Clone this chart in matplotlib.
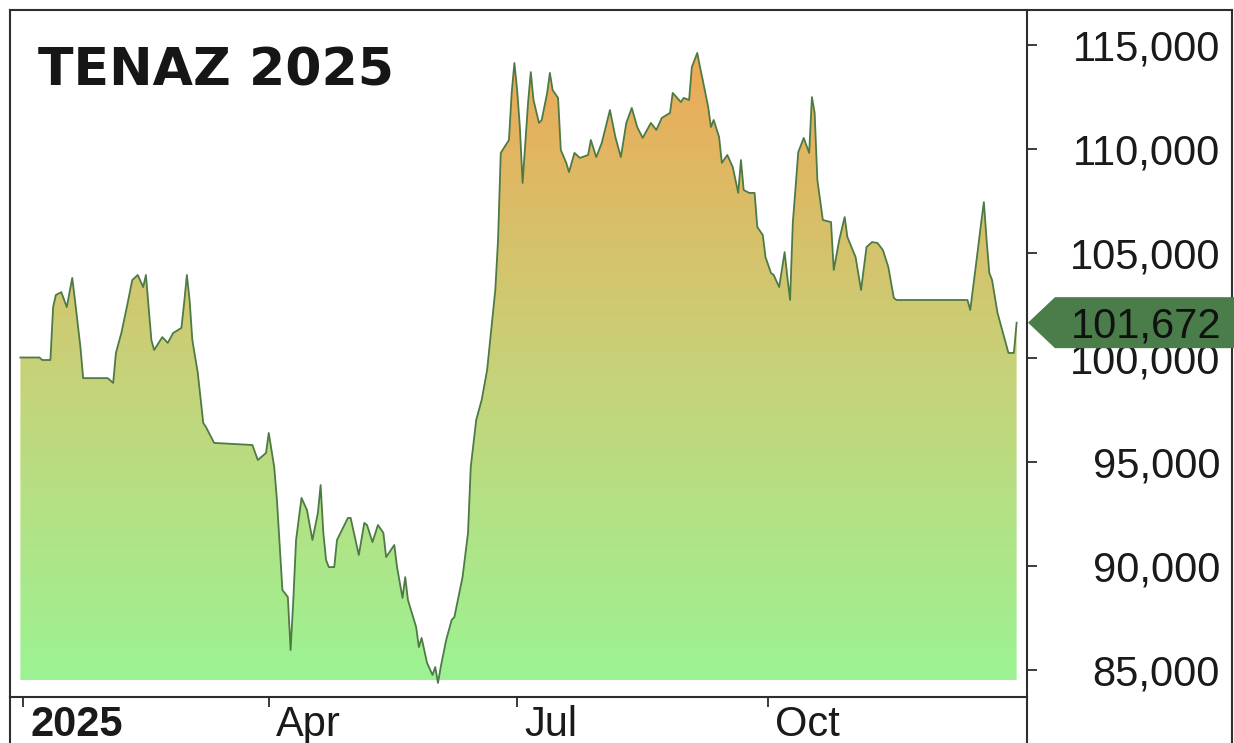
import numpy as np
import pandas as pd
import matplotlib
matplotlib.use("Agg")
import matplotlib.pyplot as plt
import matplotlib.dates as mdates
import matplotlib.transforms as mtransforms
from matplotlib.colors import LinearSegmentedColormap
from matplotlib.patches import Polygon
from matplotlib.lines import Line2D
from matplotlib.ticker import FuncFormatter

plt.rcParams['font.family'] = ['Liberation Sans', 'DejaVu Sans']

# days counted from 2025-01-01, closing values
day_offsets = [-1, 6, 7, 10, 11, 12, 14, 16, 18, 19,
               21, 22, 31, 33, 34, 36, 38, 40, 42, 44,
               45, 47, 48, 51, 53, 55, 58, 59, 60, 61,
               62, 64, 66, 67, 70, 84, 86, 89, 90, 92,
               93, 95, 97, 98, 99, 100, 102, 104, 106, 108,
               109, 110, 111, 112, 114, 115, 119, 120, 122, 123,
               125, 126, 128, 130, 132, 133, 136, 137, 139, 140,
               141, 144, 145, 146, 148, 150, 151, 152, 153, 155,
               157, 158, 161, 163, 164, 166, 167, 168, 170, 173,
               174, 175, 178, 179, 180, 181, 182, 183, 185, 186,
               187, 189, 190, 192, 193, 194, 196, 197, 199, 200,
               202, 204, 207, 208, 210, 212, 215, 217, 219, 221,
               223, 225, 227, 230, 232, 234, 237, 238, 241, 242,
               244, 245, 247, 248, 249, 251, 252, 253, 255, 256,
               258, 260, 262, 263, 264, 266, 268, 269, 271, 272,
               274, 275, 277, 279, 280, 281, 282, 284, 286, 288,
               289, 290, 291, 293, 296, 297, 299, 301, 302, 305,
               307, 309, 311, 313, 315, 317, 319, 320, 346, 347,
               349, 351, 352, 353, 354, 355, 357, 359, 361, 363,
               364]

closes = [100000, 100000, 99880, 99880, 102420, 103000, 103140, 102420, 103820, 102760,
          100500, 99010, 99010, 98780, 100220, 101180, 102420, 103720, 103960, 103380,
          103960, 100840, 100360, 100980, 100700, 101180, 101420, 102620, 103960, 102760,
          100840, 99260, 96860, 96660, 95900, 95800, 95080, 95420, 96380, 94740,
          93160, 88840, 88500, 85960, 88360, 91240, 93260, 92680, 91240, 92540,
          93880, 91580, 90280, 89940, 89940, 91240, 92300, 92300, 91100, 90520,
          92060, 91960, 91140, 91960, 91580, 90420, 91000, 89940, 88460, 89460,
          88360, 87060, 86100, 86540, 85340, 84760, 85140, 84380, 85140, 86440,
          87400, 87540, 89460, 91580, 94740, 97000, 97480, 97960, 99400, 103240,
          105640, 109820, 110440, 112700, 114140, 112840, 111060, 108380, 112220, 113700,
          112360, 111260, 111400, 112700, 113660, 112840, 112460, 109960, 109340, 108900,
          109820, 109580, 109720, 110440, 109620, 110300, 111880, 110580, 109620, 111260,
          111980, 111060, 110540, 111260, 110920, 111500, 111740, 112700, 112260, 112460,
          112360, 113940, 114620, 113940, 113320, 112020, 111060, 111400, 110580, 109340,
          109720, 109140, 107900, 109480, 108040, 107900, 107900, 106260, 105880, 104820,
          104060, 103960, 103380, 105060, 103860, 102760, 106460, 109860, 110540, 109820,
          112500, 111740, 108520, 106600, 106500, 104200, 105640, 106740, 105780, 104820,
          103240, 105300, 105540, 105500, 105160, 104340, 102860, 102760, 102760, 102280,
          104340, 106460, 107460, 105640, 104060, 103720, 102140, 101180, 100220, 100220,
          101672]

tick_dates = ['2025-01-01', '2025-04-01', '2025-07-01', '2025-10-01']
tick_labels = ['2025', 'Apr', 'Jul', 'Oct']
y_ticks = [85000, 90000, 95000, 100000, 105000, 110000, 115000]
title = 'TENAZ 2025'

W, H = 1234, 743
frame_col = '#2e2e2e'
line_col = '#4d7a45'
tag_col = '#4b7d4b'

start = pd.Timestamp('2025-01-01')
dates = start + pd.to_timedelta(day_offsets, unit='D')
x = mdates.date2num(dates)

fig = plt.figure(figsize=(W / 100, H / 100), dpi=100)
ax = fig.add_axes([10 / W, (H - 697) / H, (1027 - 10) / W, (697 - 10) / H])

# gradient area fill (green at the bottom -> orange at the top)
cmap = LinearSegmentedColormap.from_list(
    'tenaz', [(0.0, '#9cf393'), (0.5, '#c8d178'), (1.0, '#eea856')])
base = min(closes)
verts = [(x[0], base)] + list(zip(x, closes)) + [(x[-1], base)]
clip = Polygon(verts, closed=True, facecolor='none', edgecolor='none')
ax.add_patch(clip)
grad = np.linspace(0, 1, 256).reshape(-1, 1)
img = ax.imshow(grad, cmap=cmap, origin='lower', aspect='auto',
                extent=[x[0], x[-1], 84500, 115000], interpolation='bicubic')
img.set_clip_path(clip)
ax.plot(x, closes, color=line_col, lw=1.3, zorder=3)

ax.set_xlim(mdates.date2num(start) - 4.8, mdates.date2num(start) + 367.8)
ax.set_ylim(83704, 116680)

for sp in ax.spines.values():
    sp.set_color(frame_col)
    sp.set_linewidth(1.5)

# right value axis
ax.yaxis.tick_right()
ax.set_yticks(y_ticks)
ax.yaxis.set_major_formatter(FuncFormatter(lambda v, p: f'{int(v):,}'))
ax.tick_params(axis='y', direction='out', length=7.2, width=1.2, pad=131.8,
               labelsize=30, colors='#1a1a1a')
for lab in ax.yaxis.get_majorticklabels():
    lab.set_ha('right')

# date axis
ax.set_xticks(mdates.date2num(pd.to_datetime(tick_dates)))
ax.set_xticklabels(tick_labels)
ax.tick_params(axis='x', direction='out', length=7.2, width=1.2, pad=-1.5,
               labelsize=30, colors='#1a1a1a')
shift = mtransforms.ScaledTranslation(7 / 100, 0, fig.dpi_scale_trans)
for i, lab in enumerate(ax.get_xticklabels()):
    lab.set_ha('left')
    lab.set_transform(lab.get_transform() + shift)
    if i == 0:
        lab.set_fontweight('bold')

# outer frame pieces outside the plot area
def frame_line(x0, y0, x1, y1):
    fig.add_artist(Line2D([x0 / W, x1 / W], [1 - y0 / H, 1 - y1 / H],
                          transform=fig.transFigure, color=frame_col, lw=1.5, zorder=4))

frame_line(1027, 10, 1232, 10)
frame_line(1232, 10, 1232, 743)
frame_line(1027, 697, 1027, 743)
frame_line(10, 697, 10, 743)

fig.text(38 / W, 1 - 85 / H, title, fontsize=37.5, fontweight='bold',
         family='DejaVu Sans', color='#161616', va='baseline', ha='left')

# last price tag
yv = ax.transData.transform((x[-1], closes[-1]))[1]
half = 25.5
tag = np.array([(1028, yv), (1055, yv + half), (1240, yv + half),
                (1240, yv - half), (1055, yv - half)])
fig.add_artist(Polygon(tag / [W, H], closed=True, transform=fig.transFigure,
                       facecolor=tag_col, edgecolor='none', zorder=5))
fig.text(1222 / W, (yv - 15) / H, f'{closes[-1]:,}', fontsize=30, color='#111111',
         ha='right', va='baseline', zorder=6)

fig.savefig('out.png', dpi=100)
